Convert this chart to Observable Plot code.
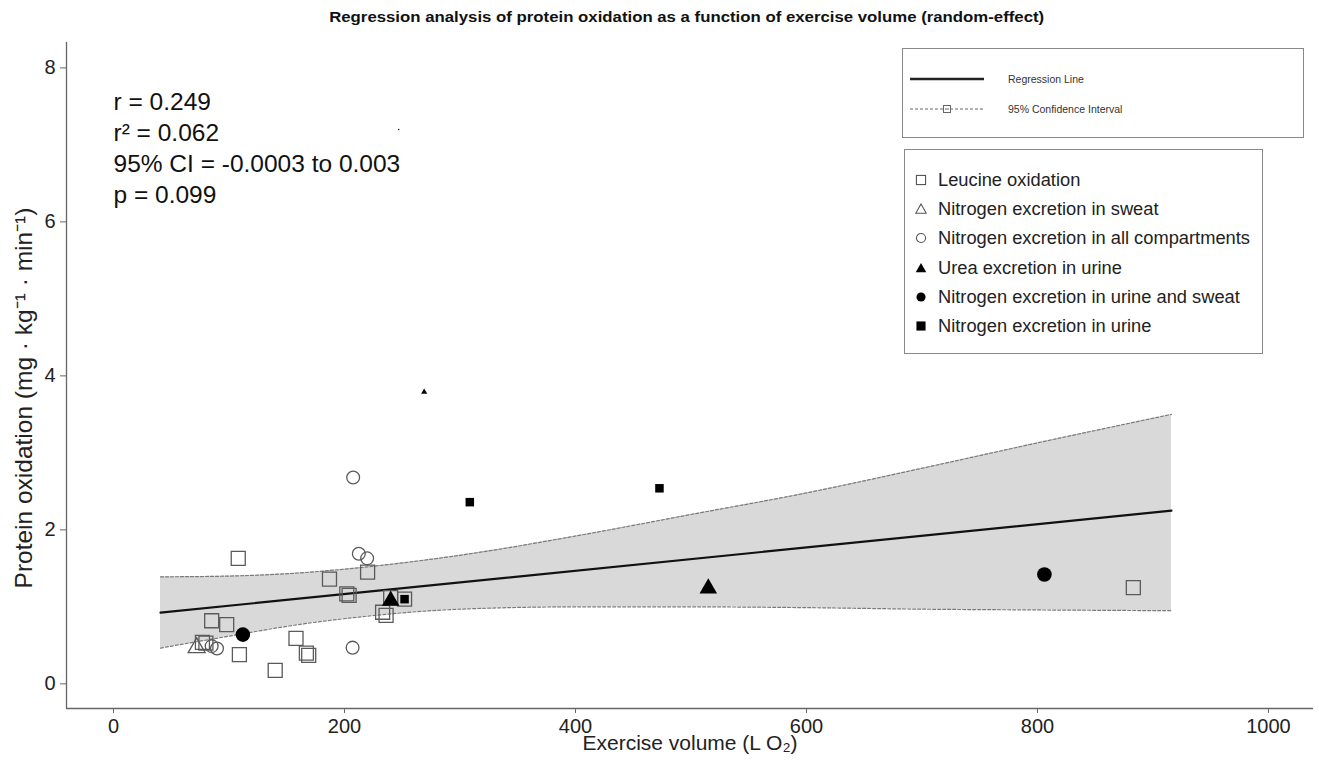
<!DOCTYPE html>
<html><head><meta charset="utf-8">
<script src="https://cdn.jsdelivr.net/npm/d3@7"></script>
<script src="https://cdn.jsdelivr.net/npm/@observablehq/plot@0.6"></script>
<style>
body{margin:0;background:#fff;font-family:"Liberation Sans",Arial,sans-serif;color:#222;}
#wrap{position:relative;width:1319px;height:765px;overflow:hidden;background:#fff;}
#title{position:absolute;top:8px;left:0;width:1374px;text-align:center;}
#tt{display:inline-block;font-family:"Liberation Sans Narrow","Liberation Sans",Arial,sans-serif;font-weight:bold;font-size:15px;white-space:nowrap;transform-origin:center center;color:#111;}
#chart{position:absolute;top:36px;left:0;}
#ylab{position:absolute;left:22px;top:398px;transform:translate(-50%,-50%) rotate(-90deg);white-space:nowrap;font-size:24.5px;color:#222;}
.box{position:absolute;border:1px solid #888;background:#fff;}
.row{position:absolute;display:flex;align-items:center;white-space:nowrap;}
#leg1 .row span{font-size:10.5px;color:#333;}
#leg2 .row span{font-size:18.3px;color:#222;}
</style></head><body>
<div id="wrap">
  <div id="title"><span id="tt">Regression analysis of protein oxidation as a function of exercise volume (random-effect)</span></div>
  <div id="chart"></div>
  <div id="ylab"></div>
  <div id="leg1" class="box" style="left:902px;top:48px;width:400px;height:88px;"></div>
  <div id="leg2" class="box" style="left:904px;top:149px;width:357px;height:203px;"></div>
</div>
<script>
// ---------- data ----------
const seriesNames = [
  "Leucine oxidation",
  "Nitrogen excretion in sweat",
  "Nitrogen excretion in all compartments",
  "Urea excretion in urine",
  "Nitrogen excretion in urine and sweat",
  "Nitrogen excretion in urine"
];
// Leucine oxidation (open squares)
const leucineX = [108, 85, 98, 109, 140, 158, 167, 169, 77, 80, 187, 202, 204, 220, 240, 252, 233, 236, 883];
const leucineY = [1.63, 0.82, 0.77, 0.38, 0.175, 0.59, 0.40, 0.37, 0.54, 0.53, 1.36, 1.17, 1.15, 1.45, 1.12, 1.10, 0.93, 0.89, 1.25];
// Nitrogen excretion in sweat (open triangle)
const sweatX = [72];
const sweatY = [0.47];
// Nitrogen excretion in all compartments (open circles)
const allCompX = [207.5, 212.4, 219.6, 207, 85, 89.6];
const allCompY = [2.68, 1.69, 1.63, 0.47, 0.49, 0.46];
// Urea excretion in urine (filled triangles) + relative study weight
const ureaX = [240, 515, 269];
const ureaY = [1.08, 1.24, 3.79];
const ureaW = [1, 1, 0.35];
// Nitrogen excretion in urine and sweat (filled circles) + relative study weight
const urSwX = [112, 806, 247];
const urSwY = [0.64, 1.42, 7.2];
const urSwW = [1, 1, 0.1];
// Nitrogen excretion in urine (filled squares)
const urineX = [252, 308.5, 472.7];
const urineY = [1.10, 2.36, 2.54];
// Regression line and 95% confidence band
const regX = [40.7, 916];
const regY = [0.925, 2.25];
const bandX  = [40.7, 100, 160, 220, 300, 400, 500, 600, 700, 800, 916];
const bandLo = [0.465, 0.62, 0.77, 0.88, 0.97, 1.00, 1.00, 0.99, 0.97, 0.96, 0.95];
const bandHi = [1.39, 1.40, 1.44, 1.52, 1.67, 1.92, 2.20, 2.48, 2.80, 3.13, 3.50];
// Axis ticks, domains and texts
const xTicks = [0, 200, 400, 600, 800, 1000];
const yTicks = [0, 2, 4, 6, 8];
const xDomain = [-40.7, 1039];
const yDomain = [-0.32, 8.33];
const statsLines = ["r = 0.249", "r\u00B2 = 0.062", "95% CI = -0.0003 to 0.003", "p = 0.099"];
const xLabel = "Exercise volume (L O\u2082)";
const yLabel = "Protein oxidation (mg \u00B7 kg\u207B\u00B9 \u00B7 min\u207B\u00B9)";
const lineLegend = ["Regression Line", "95% Confidence Interval"];

// ---------- tables ----------
const zip = (xs, ys, ws) => xs.map((x, i) => ({x, y: ys[i], w: ws ? ws[i] : 1}));
const leucine = zip(leucineX, leucineY);
const sweat = zip(sweatX, sweatY);
const allComp = zip(allCompX, allCompY);
const urea = zip(ureaX, ureaY, ureaW);
const urSw = zip(urSwX, urSwY, urSwW);
const urine = zip(urineX, urineY);
const reg = zip(regX, regY);
const band = bandX.map((x, i) => ({x, lo: bandLo[i], hi: bandHi[i]}));

const grey = "#666";
const chart = Plot.plot({
  width: 1319, height: 729,
  marginLeft: 66, marginRight: 6, marginTop: 6, marginBottom: 57,
  style: {fontFamily: "'Liberation Sans', Arial, sans-serif", fontSize: "20px", color: "#222", background: "transparent"},
  x: {domain: xDomain},
  y: {domain: yDomain},
  r: {type: "identity"},
  marks: [
    Plot.areaY(band, {x: "x", y1: "lo", y2: "hi", fill: "#d9d9d9", curve: "monotone-x"}),
    Plot.line(band, {x: "x", y: "hi", stroke: "#7a7a7a", strokeWidth: 1.2, strokeDasharray: "3,2", curve: "monotone-x"}),
    Plot.line(band, {x: "x", y: "lo", stroke: "#7a7a7a", strokeWidth: 1.2, strokeDasharray: "3,2", curve: "monotone-x"}),
    Plot.line(reg, {x: "x", y: "y", stroke: "#111", strokeWidth: 2.2}),
    Plot.ruleX([xDomain[0]], {stroke: grey, strokeWidth: 1.3}),
    Plot.ruleY([yDomain[0]], {stroke: grey, strokeWidth: 1.3}),
    Plot.axisX({ticks: xTicks, tickFormat: d => String(d), tickSize: 5, tickPadding: 5, label: null, stroke: grey, fill: "#222", fontSize: 20}),
    Plot.axisY({ticks: yTicks, tickFormat: d => String(d), tickSize: 6, tickPadding: 5, label: null, stroke: grey, fill: "#222", fontSize: 20}),
    Plot.dot(leucine, {x: "x", y: "y", symbol: "square", r: 7.9, stroke: "#5a5a5a", strokeWidth: 1.3, fill: "none"}),
    Plot.dot(allComp, {x: "x", y: "y", symbol: "circle", r: 6.4, stroke: "#5a5a5a", strokeWidth: 1.3, fill: "none"}),
    Plot.dot(sweat, {x: "x", y: "y", symbol: "triangle", r: 6.3, stroke: "#5a5a5a", strokeWidth: 1.3, fill: "none"}),
    Plot.dot(urine, {x: "x", y: "y", symbol: "square", r: 4.8, fill: "#000", stroke: "none"}),
    Plot.dot(urea, {x: "x", y: "y", symbol: "triangle", r: d => 6.5 * d.w, fill: "#000", stroke: "none"}),
    Plot.dot(urSw, {x: "x", y: "y", symbol: "circle", r: d => 7.3 * d.w, fill: "#000", stroke: "none"}),
    Plot.text([statsLines.join("\n")], {frameAnchor: "top-left", dx: 47, dy: 45, lineAnchor: "top", textAnchor: "start", lineHeight: 1.27, fontSize: 24.5, fill: "#111"}),
    Plot.text([xLabel], {frameAnchor: "bottom", dy: 41, fontSize: 21, fill: "#222"})
  ]
});
document.getElementById("chart").appendChild(chart);
document.getElementById("ylab").textContent = yLabel;

// ---------- legends ----------
function sym(kind, filled, size) {
  const s = size, c = s / 2;
  let shape = "";
  const st = filled ? 'fill="#000" stroke="none"' : 'fill="none" stroke="#555" stroke-width="1.1"';
  if (kind === "square") shape = `<rect x="${c - s * 0.38}" y="${c - s * 0.38}" width="${s * 0.76}" height="${s * 0.76}" ${st}/>`;
  if (kind === "circle") shape = `<circle cx="${c}" cy="${c}" r="${s * 0.38}" ${st}/>`;
  if (kind === "triangle") shape = `<path d="M${c},${c - s * 0.42} L${c + s * 0.44},${c + s * 0.36} L${c - s * 0.44},${c + s * 0.36} Z" ${st}/>`;
  return `<svg width="${s}" height="${s}" style="display:block">${shape}</svg>`;
}
const legKinds = [["square", false], ["triangle", false], ["circle", false], ["triangle", true], ["circle", true], ["square", true]];
const leg2 = document.getElementById("leg2");
const rowY = [179.3, 208.3, 237.3, 266.7, 296, 325];
seriesNames.forEach((name, i) => {
  const row = document.createElement("div");
  row.className = "row";
  row.style.left = (920 - 904 - 6) + "px";
  row.style.top = (rowY[i] - 149 - 12) + "px";
  row.style.height = "24px";
  row.innerHTML = `${sym(legKinds[i][0], legKinds[i][1], 12)}<span style="margin-left:11px">${name}</span>`;
  leg2.appendChild(row);
});
const leg1 = document.getElementById("leg1");
const l1rows = [78, 108];
lineLegend.forEach((name, i) => {
  const row = document.createElement("div");
  row.className = "row";
  row.style.left = "6px";
  row.style.top = (l1rows[i] - 48 - 8) + "px";
  row.style.height = "16px";
  const line = i === 0
    ? `<svg width="76" height="16" style="display:block"><line x1="1" x2="75" y1="8" y2="8" stroke="#222" stroke-width="2.4"/></svg>`
    : `<svg width="76" height="16" style="display:block"><line x1="1" x2="75" y1="8" y2="8" stroke="#666" stroke-width="1" stroke-dasharray="3,2"/><rect x="34.5" y="4.5" width="7" height="7" fill="#fff" stroke="#666" stroke-width="1"/><line x1="36" x2="40" y1="8" y2="8" stroke="#666" stroke-width="1"/></svg>`;
  row.innerHTML = `${line}<span style="margin-left:23px">${name}</span>`;
  leg1.appendChild(row);
});

// fit title width to reference (~715px)
const tt = document.getElementById("tt");
const w = tt.getBoundingClientRect().width;
tt.style.transform = `scaleX(${715 / w})`;
</script>
</body></html>
